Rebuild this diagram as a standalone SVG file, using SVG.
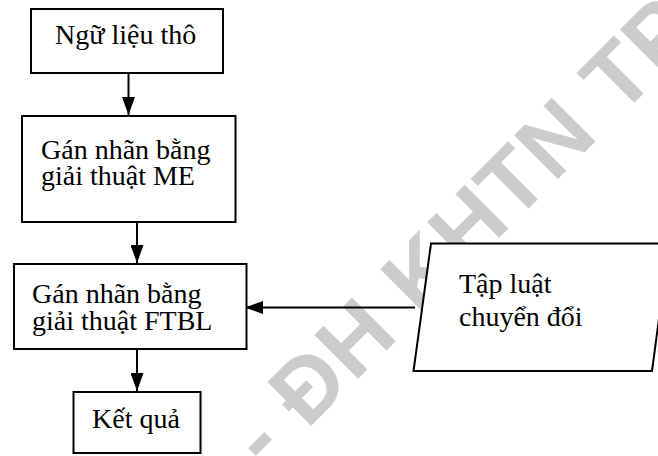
<svg xmlns="http://www.w3.org/2000/svg" width="658" height="456" viewBox="0 0 658 456">
  <style>
    .box { fill: #ffffff; stroke: #000000; stroke-width: 2; }
    .lbl { font-family: "Liberation Serif", "Times New Roman", serif; font-size: 28px; fill: #000000; }
    .edge { stroke: #000000; stroke-width: 2; fill: none; marker-end: url(#arrow); }
    .wm { font-family: "Liberation Sans", Arial, sans-serif; font-weight: bold; font-size: 90px; letter-spacing: 1.5px; fill: #cccccc; }
  </style>
  <defs>
    <marker id="arrow" viewBox="0 0 18 13" refX="18" refY="6.5" markerWidth="18" markerHeight="13" markerUnits="userSpaceOnUse" orient="auto">
      <path d="M0,0 L18,6.5 L0,13 Z" fill="#000000"/>
    </marker>
  </defs>
  <rect x="0" y="0" width="658" height="456" fill="#ffffff"/>
  <g id="watermark">
    <text class="wm" x="266" y="471" transform="rotate(-45 266 471)">- ĐH KHTN TP</text>
  </g>
  <g id="connectors">
    <line class="edge" x1="128.5" y1="73" x2="128.5" y2="115"/>
    <line class="edge" x1="137" y1="222" x2="137" y2="263"/>
    <line class="edge" x1="137" y1="349" x2="137" y2="391"/>
    <line class="edge" x1="415" y1="307.5" x2="245" y2="307.5"/>
  </g>
  <g id="node-ngu-lieu-tho">
    <rect class="box" x="31" y="9" width="192" height="64"/>
    <text class="lbl" x="55" y="44">Ngữ liệu thô</text>
  </g>
  <g id="node-gan-nhan-me">
    <rect class="box" x="22" y="116" width="213.5" height="106"/>
    <text class="lbl" x="41" y="159">Gán nhãn bằng</text>
    <text class="lbl" x="41" y="184.5">giải thuật ME</text>
  </g>
  <g id="node-gan-nhan-ftbl">
    <rect class="box" x="14" y="264" width="232.5" height="85"/>
    <text class="lbl" x="32" y="303">Gán nhãn bằng</text>
    <text class="lbl" x="32" y="329.5">giải thuật FTBL</text>
  </g>
  <g id="node-ket-qua">
    <rect class="box" x="73.5" y="392" width="127" height="61"/>
    <text class="lbl" x="92" y="428">Kết quả</text>
  </g>
  <g id="node-tap-luat">
    <polygon class="box" points="431,243.5 669,243.5 652,371 413.5,371"/>
    <text class="lbl" x="459" y="293">Tập luật</text>
    <text class="lbl" x="459" y="326">chuyển đổi</text>
  </g>
</svg>
